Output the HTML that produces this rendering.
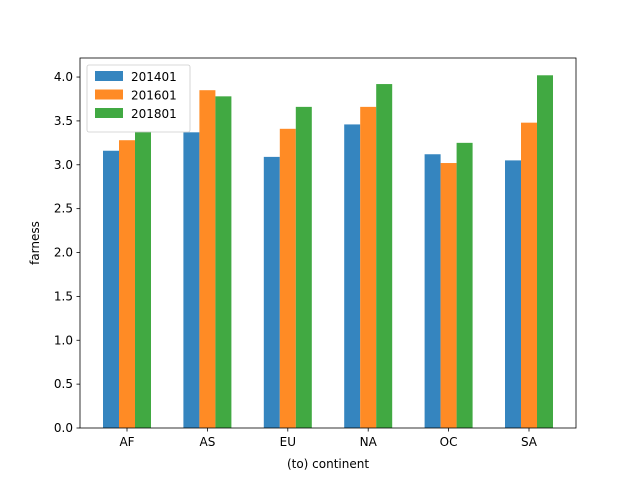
<!DOCTYPE html>
<html><head><meta charset="utf-8"><style>
body{margin:0;background:#fff;font-family:"Liberation Sans","DejaVu Sans",sans-serif}
svg text{font-family:"DejaVu Sans","Liberation Sans",sans-serif;font-size:12px;fill:#000}
</style></head><body>
<svg id="chart" width="640" height="480" viewBox="0 0 640 480">
<rect width="640" height="480" fill="#fff"/>
<g id="bars"></g>
<g id="axes"></g>
</svg>
<script>
const categories=["AF","AS","EU","NA","OC","SA"];
const seriesNames=["201401","201601","201801"];
const s201401=[3.16,3.37,3.09,3.46,3.12,3.05];
const s201601=[3.28,3.85,3.41,3.66,3.02,3.48];
const s201801=[3.38,3.78,3.66,3.92,3.25,4.02];
const yTicks=[0,0.5,1.0,1.5,2.0,2.5,3.0,3.5,4.0];
const colors=["#3585bf","#ff8b25","#41a942"];
const L=80,R=576,T=58,B=428,yMax=4.217;
const ns="http://www.w3.org/2000/svg";
function y(v){return B-(B-T)*v/yMax;}
function xc(i){return 127+80.4*i;}
const bw=16;
function mk(tag,attrs,parent){const e=document.createElementNS(ns,tag);for(const k in attrs)e.setAttribute(k,attrs[k]);parent.appendChild(e);return e;}
const bars=document.getElementById('bars'),axes=document.getElementById('axes');
[s201401,s201601,s201801].forEach((s,j)=>{s.forEach((v,i)=>{
 const r=mk('rect',{x:xc(i)+(j-1)*bw-bw/2,y:y(v),width:bw,height:B-y(v),fill:colors[j]},bars);
 
 
});});
const frame=mk('rect',{x:L,y:T,width:R-L,height:B-T,fill:'none',stroke:'#000','stroke-width':0.8},axes);


yTicks.forEach(t=>{
 mk('line',{x1:L-3.5,x2:L,y1:y(t),y2:y(t),stroke:'#000','stroke-width':0.8},axes);
 const tx=mk('text',{x:L-7,y:y(t)+4,'text-anchor':'end'},axes);tx.textContent=t.toFixed(1);
 
 
});
categories.forEach((c,i)=>{
 mk('line',{x1:xc(i),x2:xc(i),y1:B,y2:B+3.5,stroke:'#000','stroke-width':0.8},axes);
 const tx=mk('text',{x:xc(i),y:B+18,'text-anchor':'middle'},axes);tx.textContent=c;
 
 
});
const xt=mk('text',{x:(L+R)/2,y:468,'text-anchor':'middle'},axes);xt.textContent="(to) continent";


const yt=mk('text',{x:0,y:0,'text-anchor':'middle',transform:'translate(39,243) rotate(-90)'},axes);yt.textContent="farness";


const lg=mk('g',{},axes);


mk('rect',{x:87,y:65,width:103,height:67,rx:2,fill:'#fff','fill-opacity':0.8,stroke:'#ccc','stroke-width':0.8},lg);
seriesNames.forEach((n,j)=>{
 mk('rect',{x:95,y:71+j*18.5,width:28,height:10,fill:colors[j]},lg);
 const tx=mk('text',{x:131,y:81+j*18.5},lg);tx.textContent=n;
 
 
});
</script>
</body></html>
